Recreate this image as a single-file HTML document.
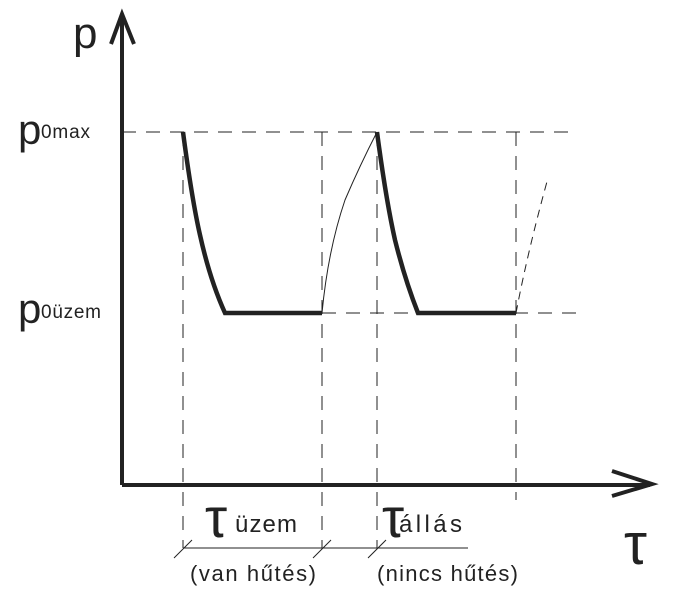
<!DOCTYPE html>
<html><head><meta charset="utf-8"><style>
html,body{margin:0;padding:0;background:#fff;}
svg{display:block;}
text{font-family:"Liberation Sans",sans-serif;fill:#222;}
</style></head><body>
<svg width="681" height="606" viewBox="0 0 681 606" xmlns="http://www.w3.org/2000/svg">
<g stroke="#222" fill="none">
<g stroke-width="1" stroke-dasharray="14,10">
<line x1="122" y1="132" x2="578" y2="132"/>
<line x1="322" y1="313" x2="578" y2="313"/>
<line x1="183" y1="132" x2="183" y2="548"/>
<line x1="322" y1="132" x2="322" y2="548"/>
<line x1="377" y1="132" x2="377" y2="548"/>
<line x1="516" y1="132" x2="516" y2="500"/>
</g>
<line x1="122" y1="16" x2="122" y2="485" stroke-width="4"/>
<polyline points="111,44 122,14 134,44" stroke-width="4"/>
<line x1="122" y1="485" x2="650" y2="485" stroke-width="4"/>
<polyline points="612,471 652,484 612,496" stroke-width="4"/>
<path d="M183,132 Q192,200 200,235 Q210,280 225,313 L322,313" stroke-width="4.5"/>
<path d="M322,313 Q328,250 345,200 Q360,165 377,132" stroke-width="1"/>
<path d="M377,132 Q386,200 395,240 Q405,280 418,313 L516,313" stroke-width="4.5"/>
<path d="M516,313 Q528,250 548,178" stroke-width="1" stroke-dasharray="8,6"/>
<line x1="183" y1="548" x2="468" y2="548" stroke-width="1"/>
<line x1="174" y1="558" x2="192" y2="540" stroke-width="1"/>
<line x1="313" y1="558" x2="331" y2="540" stroke-width="1"/>
<line x1="368" y1="558" x2="386" y2="540" stroke-width="1"/>
</g>
<text x="73" y="48" font-size="44">p</text>
<text x="18" y="144" font-size="42">p</text><text x="41" y="138" font-size="19" textLength="49">0max</text>
<text x="18" y="323" font-size="42">p</text><text x="41" y="318" font-size="19" textLength="60">0üzem</text>
<text x="205" y="537" font-size="56">τ</text><text x="235" y="532" font-size="24" textLength="62">üzem</text>
<text x="382" y="537" font-size="56">τ</text><text x="399" y="532" font-size="24" textLength="63">állás</text>
<text x="190" y="581" font-size="22" textLength="126">(van hűtés)</text>
<text x="377" y="581" font-size="22" textLength="141">(nincs hűtés)</text>
<text x="624" y="564" font-size="58">τ</text>
</svg>
</body></html>
